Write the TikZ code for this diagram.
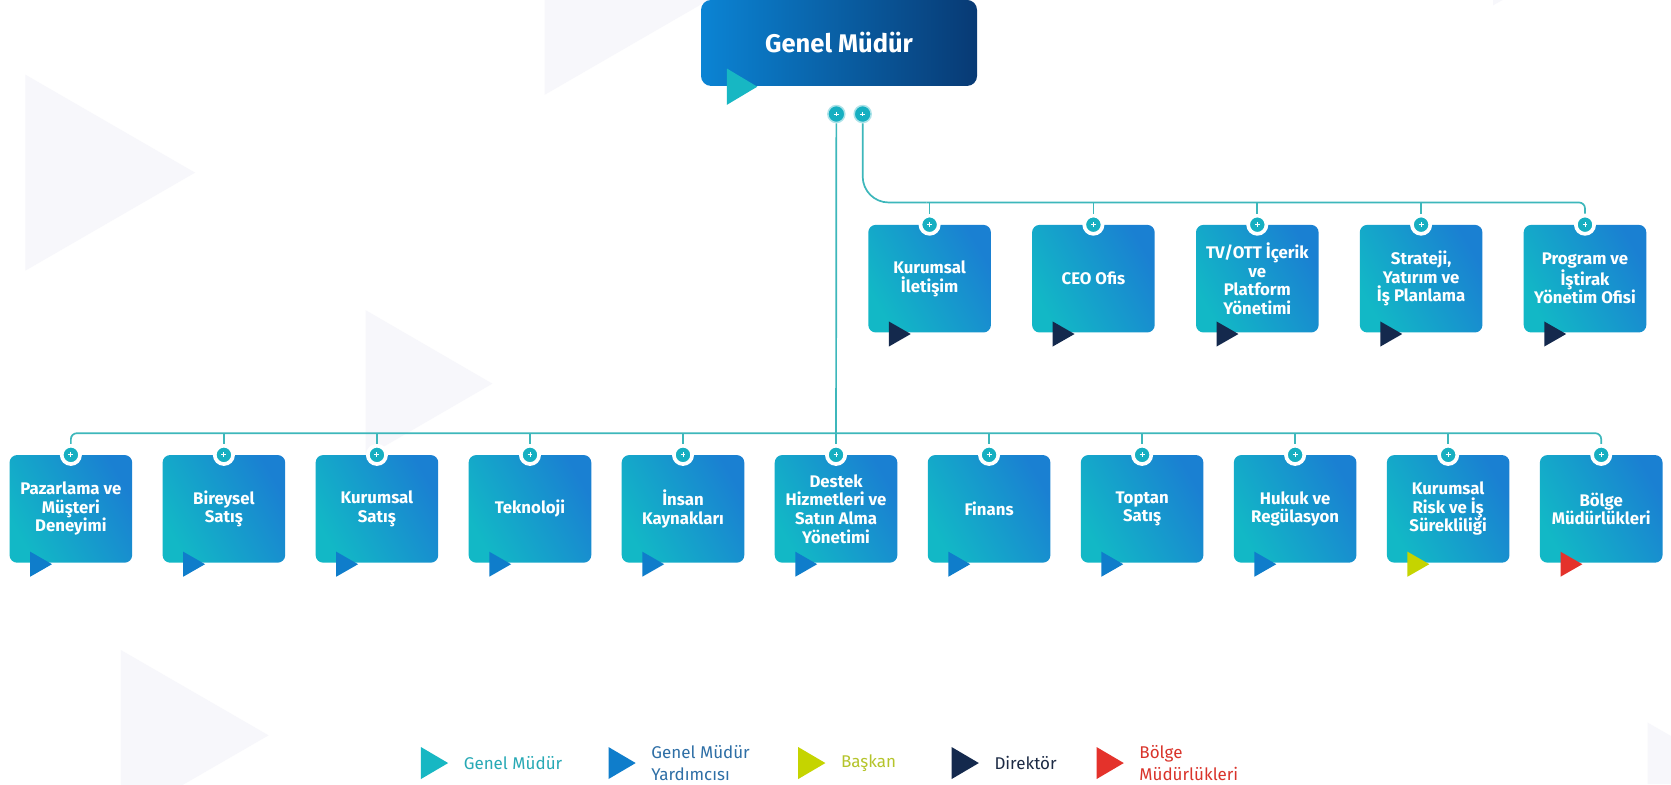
\documentclass[tikz,border=0pt]{standalone}
\usepackage{fontspec}
\setmainfont{Fira Sans}
\usetikzlibrary{calc}
\definecolor{lineteal}{HTML}{3DB7BB}
\definecolor{pinteal}{HTML}{16AFC1}
\definecolor{boxteal}{HTML}{12B8C6}
\definecolor{boxblue}{HTML}{1A80D2}
\definecolor{gmblue}{HTML}{0B84D4}
\definecolor{gmnavy}{HTML}{083A74}
\definecolor{trigm}{HTML}{17B7C3}
\definecolor{trigmy}{HTML}{0F7DCB}
\definecolor{tribaskan}{HTML}{C5D400}
\definecolor{tridir}{HTML}{14294D}
\definecolor{tribolge}{HTML}{E4322B}
\definecolor{bgtri}{HTML}{F7F7FB}
\definecolor{txtgm}{HTML}{27A9B5}
\definecolor{txtgmy}{HTML}{2E6FA6}
\definecolor{txtbaskan}{HTML}{B5C42B}
\definecolor{txtdir}{HTML}{1D2B45}
\definecolor{txtbolge}{HTML}{D9332A}
\newcommand\tmark[2]{\fill[#1] ($(#2.south west)+(19.5,-10.5)$) -- ++(0,23.5) -- ++(20.5,-11.75) -- cycle;}
\newcommand\legmark[2]{\fill[#1] ($(#2.west)+(-40,-15)$) -- ++(0,30) -- ++(25.5,-15) -- cycle;}
\begin{document}
\begin{tikzpicture}[x=1.0657pt,y=-1.0657pt,
  unitbox/.style={rectangle, rounded corners=7.5pt, minimum width=122.6pt, minimum height=107.6pt, inner sep=0pt,
    bottom color=boxteal, top color=boxblue, shading angle=-60, text=white,
    font=\fontsize{16.8}{18.6}\selectfont\bfseries, align=center},
  gmbox/.style={rectangle, rounded corners=10pt, minimum width=276pt, minimum height=86pt, inner sep=0pt,
    left color=gmblue, right color=gmnavy, text=white, font=\fontsize{25.5}{28}\selectfont\bfseries},
  plusdot/.style={circle, minimum size=18.3pt, inner sep=0pt, fill=pinteal, draw=white, line width=3.7pt,
    path picture={\draw[white, line width=0.9pt] ($(path picture bounding box.center)+(-2.3,0)$) -- ++(4.6,0)
      ($(path picture bounding box.center)+(0,-2.3)$) -- ++(0,4.6);}},
  topdot/.style={circle, minimum size=17pt, inner sep=0pt, fill=pinteal, draw=pinteal!35, line width=1.5pt,
    path picture={\draw[white, line width=0.9pt] ($(path picture bounding box.center)+(-2.3,0)$) -- ++(4.6,0)
      ($(path picture bounding box.center)+(0,-2.3)$) -- ++(0,4.6);}},
  conn/.style={draw=lineteal, line width=1.7pt},
  legtext/.style={inner sep=0pt, anchor=west, align=left, font=\fontsize{17}{22.4}\selectfont}
]
\useasboundingbox (0,0) rectangle (1568,735.7);
\fill[white] (0,0) rectangle (1568,735.7);
% background triangles
\fill[bgtri] (23.7,70) -- (23.7,254) -- (183,162) -- cycle;
\fill[bgtri] (343,291) -- (343,429) -- (462,360) -- cycle;
\fill[bgtri] (511,0) -- (511,89) -- (665,0) -- cycle;
\fill[bgtri] (113.5,610) -- (252,690) -- (113.5,770) -- cycle;
\fill[bgtri] (1546,678) -- (1568,690.7) -- (1568,735.7) -- (1546,735.7) -- cycle;
\fill[bgtri] (1401,0) -- (1401,5) -- (1410,0) -- cycle;

% general manager
\node[gmbox] (gm) at (787.3,40.3) {Genel Müdür};
\fill[trigm] ($(gm.south west)+(24.5,-16.5)$) -- ++(0,34) -- ++(28.5,-17) -- cycle;
\node[topdot] (q1) at (784.8,107) {};
\node[topdot] (q2) at (809.5,107) {};

% top row
\node[unitbox] (r1) at (872.3,261.5) {Kurumsal\\İletişim};
\node[unitbox] (r2) at (1026,261.5) {CEO Ofis};
\node[unitbox] (r3) at (1179.8,261.5) {TV/OTT İçerik\\ve\\Platform\\Yönetimi};
\node[unitbox] (r4) at (1333.5,261.5) {Strateji,\\Yatırım ve\\İş Planlama};
\node[unitbox] (r5) at (1487.3,261.5) {Program ve\\İştirak\\Yönetim Ofisi};
\foreach \i in {1,...,5} {\node[plusdot] (s\i) at (r\i.north) {};}
\foreach \i in {1,...,5} {\tmark{tridir}{r\i}}

% bottom row
\node[unitbox] (b1) at (66.5,477.5) {Pazarlama ve\\Müşteri\\Deneyimi};
\node[unitbox] (b2) at (210.1,477.5) {Bireysel\\Satış};
\node[unitbox] (b3) at (353.7,477.5) {Kurumsal\\Satış};
\node[unitbox] (b4) at (497.3,477.5) {Teknoloji};
\node[unitbox] (b5) at (640.9,477.5) {İnsan\\Kaynakları};
\node[unitbox] (b6) at (784.5,477.5) {Destek\\Hizmetleri ve\\Satın Alma\\Yönetimi};
\node[unitbox] (b7) at (928.1,477.5) {Finans};
\node[unitbox] (b8) at (1071.7,477.5) {Toptan\\Satış};
\node[unitbox] (b9) at (1215.3,477.5) {Hukuk ve\\Regülasyon};
\node[unitbox] (b10) at (1358.9,477.5) {Kurumsal\\Risk ve İş\\Sürekliliği};
\node[unitbox] (b11) at (1502.5,477.5) {Bölge\\Müdürlükleri};
\foreach \i in {1,...,11} {\node[plusdot] (p\i) at (b\i.north) {};}
\foreach \i in {1,...,9} {\tmark{trigmy}{b\i}}
\tmark{tribaskan}{b10}
\tmark{tribolge}{b11}

% connectors
\coordinate (tbus) at (0,190);
\coordinate (bbus) at (0,406.5);
\draw[conn] (q1.south) -- (p6.north);
\draw[conn, rounded corners=6pt] (p1.north) -- (p1.north |- bbus) -- (p11.north |- bbus) -- (p11.north);
\foreach \i in {2,...,10} {\draw[conn] (p\i.north) -- (p\i.north |- bbus);}
\coordinate (tmid) at ($(q2.south |- tbus)+(60,0)$);
\draw[conn, rounded corners=26pt] (q2.south) -- (q2.south |- tbus) -- (tmid);
\draw[conn, rounded corners=6pt] (tmid) -- (s5.north |- tbus) -- (s5.north);
\foreach \i in {1,...,4} {\draw[conn] (s\i.north) -- (s\i.north |- tbus);}

% legend
\node[legtext, text=txtgm] (l1) at (435,716) {Genel Müdür};
\node[legtext, text=txtgmy] (l2) at (611,716) {Genel Müdür\\Yardımcısı};
\node[legtext, text=txtbaskan] (l3) at (789,716) {Başkan};
\node[legtext, text=txtdir] (l4) at (933,716) {Direktör};
\node[legtext, text=txtbolge] (l5) at (1069,716) {Bölge\\Müdürlükleri};
\legmark{trigm}{l1}
\legmark{trigmy}{l2}
\legmark{tribaskan}{l3}
\legmark{tridir}{l4}
\legmark{tribolge}{l5}
\end{tikzpicture}
\end{document}
